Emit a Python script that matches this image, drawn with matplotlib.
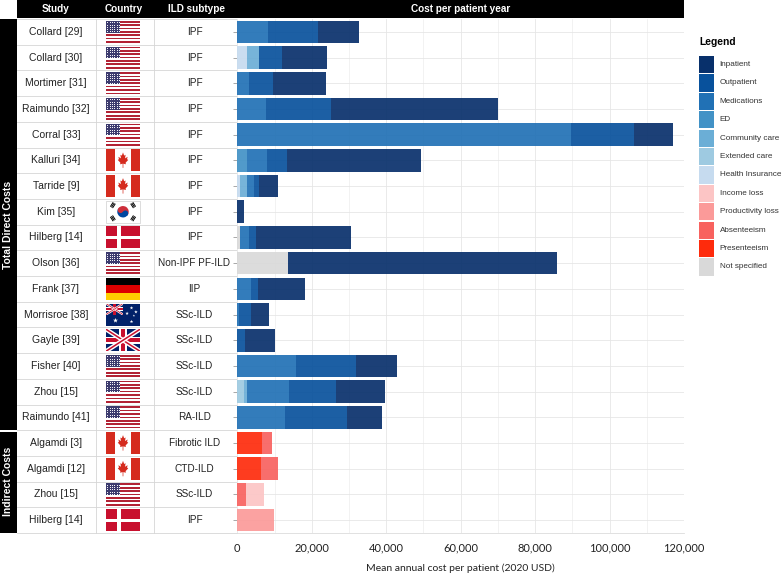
import numpy as np
import matplotlib.pyplot as plt
from matplotlib.patches import Rectangle, Polygon, Wedge, Circle
from matplotlib.ticker import FuncFormatter, MultipleLocator

# ---- data ----
studies = ['Collard [29]', 'Collard [30]', 'Mortimer [31]', 'Raimundo [32]', 'Corral [33]',
           'Kalluri [34]', 'Tarride [9]', 'Kim [35]', 'Hilberg [14]', 'Olson [36]',
           'Frank [37]', 'Morrisroe [38]', 'Gayle [39]', 'Fisher [40]', 'Zhou [15]',
           'Raimundo [41]', 'Algamdi [3]', 'Algamdi [12]', 'Zhou [15]', 'Hilberg [14]']
countries = ['US', 'US', 'US', 'US', 'US', 'CA', 'CA', 'KR', 'DK', 'US',
             'DE', 'AU', 'UK', 'US', 'US', 'US', 'CA', 'CA', 'US', 'DK']
subtypes = ['IPF', 'IPF', 'IPF', 'IPF', 'IPF', 'IPF', 'IPF', 'IPF', 'IPF', 'Non-IPF PF-ILD',
            'IIP', 'SSc-ILD', 'SSc-ILD', 'SSc-ILD', 'SSc-ILD', 'RA-ILD', 'Fibrotic ILD', 'CTD-ILD',
            'SSc-ILD', 'IPF']
group_names = ['Total Direct Costs', 'Indirect Costs']
group_sizes = [16, 4]

categories = ['Inpatient', 'Outpatient', 'Medications', 'ED', 'Community care', 'Extended care',
              'Health Insurance', 'Income loss', 'Productivity loss', 'Absenteeism',
              'Presenteeism', 'Not specified']
colors = ['#08306b', '#08519c', '#2171b5', '#4292c6', '#6baed6', '#9ecae1',
          '#c6dbef', '#fcc5c5', '#fb9a99', '#f8625f', '#fe2b0c', '#d9d9d9']

inpatient =     [11100, 12000, 14000, 45000, 10500, 36000, 5100, 1800, 25500, 72100,
                 12500, 4600, 8000, 11000, 13100, 9400, 0, 0, 0, 0]
outpatient =    [13400, 6300, 6600, 17400, 17000, 5400, 1300, 0, 1900, 0,
                 1900, 3300, 2200, 16000, 12600, 16800, 0, 0, 0, 0]
medications =   [8200, 0, 3100, 7700, 89600, 5400, 2000, 0, 2400, 0,
                 3700, 500, 0, 15900, 11300, 12800, 0, 0, 0, 0]
ed =            [0, 0, 0, 0, 0, 2500, 0, 0, 0, 0, 0, 0, 0, 0, 0, 0, 0, 0, 0, 0]
community =     [0, 3300, 0, 0, 0, 0, 1800, 0, 0, 0, 0, 0, 0, 0, 900, 0, 0, 0, 0, 0]
extended =      [0, 0, 0, 0, 0, 0, 0, 0, 0, 0, 0, 0, 0, 0, 1700, 0, 0, 0, 0, 0]
health_ins =    [0, 2500, 0, 0, 0, 0, 700, 0, 0, 0, 0, 0, 0, 0, 0, 0, 0, 0, 0, 0]
income_loss =   [0, 0, 0, 0, 0, 0, 0, 0, 0, 0, 0, 0, 0, 0, 0, 0, 0, 0, 4800, 0]
productivity =  [0, 0, 0, 0, 0, 0, 0, 0, 0, 0, 0, 0, 0, 0, 0, 0, 0, 0, 0, 9900]
absenteeism =   [0, 0, 0, 0, 0, 0, 0, 0, 0, 0, 0, 0, 0, 0, 0, 0, 2700, 4500, 2400, 0]
presenteeism =  [0, 0, 0, 0, 0, 0, 0, 0, 0, 0, 0, 0, 0, 0, 0, 0, 6600, 6400, 0, 0]
not_specified = [0, 0, 0, 0, 0, 0, 0, 0, 700, 13700, 0, 0, 0, 0, 0, 0, 0, 0, 0, 0]

series = [inpatient, outpatient, medications, ed, community, extended, health_ins,
          income_loss, productivity, absenteeism, presenteeism, not_specified]

SANS = ['Liberation Sans', 'DejaVu Sans']
W, H = 783, 574
TOP, BOTTOM = 19, 533
PL, PR = 237.3, 684
n = len(studies)
row_h = (BOTTOM - TOP) / n


# ---- flags, drawn in pixel coordinates ----
def rect(ax, x, y, w, h, c, **kw):
    p = Rectangle((x, y), w, h, facecolor=c, lw=0, **kw)
    ax.add_patch(p)
    return p


def flag_us(ax, x0, y0, w, h):
    sh = h / 13
    for i in range(13):
        rect(ax, x0, y0 + i * sh, w, sh + 0.05, '#b22234' if i % 2 == 0 else 'white')
    cw, ch = w * 0.42, sh * 7
    rect(ax, x0, y0, cw, ch, '#3c3b6e')
    gx, gy = np.meshgrid(np.linspace(x0 + cw * 0.1, x0 + cw * 0.9, 6),
                         np.linspace(y0 + ch * 0.12, y0 + ch * 0.88, 5))
    ax.scatter(gx.ravel(), gy.ravel(), s=0.5, c='white', lw=0)


leaf = np.array([(0, 1.0), (0.2, 0.6), (0.45, 0.7), (0.35, 0.25), (0.8, 0.45), (0.7, 0.15),
                 (0.9, 0.05), (0.45, -0.3), (0.5, -0.5), (0.06, -0.42), (0.06, -0.95),
                 (-0.06, -0.95), (-0.06, -0.42), (-0.5, -0.5), (-0.45, -0.3), (-0.9, 0.05),
                 (-0.7, 0.15), (-0.8, 0.45), (-0.35, 0.25), (-0.45, 0.7), (-0.2, 0.6)])


def flag_ca(ax, x0, y0, w, h):
    red = '#d52b1e'
    rect(ax, x0, y0, w, h, 'white')
    rect(ax, x0, y0, w * 0.26, h, red)
    rect(ax, x0 + w * 0.74, y0, w * 0.26, h, red)
    cx, cy = x0 + w / 2, y0 + h / 2
    pts = np.column_stack([cx + leaf[:, 0] * w * 0.17, cy - leaf[:, 1] * h * 0.36])
    ax.add_patch(Polygon(pts, closed=True, facecolor=red, lw=0))


def flag_kr(ax, x0, y0, w, h):
    ax.add_patch(Rectangle((x0, y0), w, h, facecolor='white', edgecolor='#cfcfcf', lw=0.5))
    cx, cy = x0 + w / 2, y0 + h / 2
    r = h * 0.26
    a = 33.7
    ax.add_patch(Wedge((cx, cy), r, 180 + a, 360 + a, facecolor='#cd2e3a', lw=0))
    ax.add_patch(Wedge((cx, cy), r, a, 180 + a, facecolor='#0047a0', lw=0))
    d = np.array([np.cos(np.radians(a)), np.sin(np.radians(a))])
    ax.add_patch(Circle((cx - d[0] * r / 2, cy - d[1] * r / 2), r / 2, facecolor='#cd2e3a', lw=0))
    ax.add_patch(Circle((cx + d[0] * r / 2, cy + d[1] * r / 2), r / 2, facecolor='#0047a0', lw=0))
    for sx, sy in [(-1, -1), (1, -1), (-1, 1), (1, 1)]:
        v = np.array([sx * w, sy * h])
        v = v / np.hypot(*v)
        p = np.array([-v[1], v[0]])
        tc = np.array([cx, cy]) + v * h * 0.55
        for k in (-1, 0, 1):
            c = tc + v * k * 1.3
            ax.plot([c[0] - p[0] * 2.6, c[0] + p[0] * 2.6], [c[1] - p[1] * 2.6, c[1] + p[1] * 2.6],
                    color='black', lw=0.7, solid_capstyle='butt')


def flag_dk(ax, x0, y0, w, h):
    rect(ax, x0, y0, w, h, '#c8102e')
    rect(ax, x0 + w * 12 / 37, y0, w * 4 / 37, h, 'white')
    rect(ax, x0, y0 + h * 12 / 28, w, h * 4 / 28, 'white')


def flag_de(ax, x0, y0, w, h):
    for i, c in enumerate(['#000000', '#dd0000', '#ffce00']):
        rect(ax, x0, y0 + i * h / 3, w, h / 3 + 0.05, c)


def union_jack(ax, x0, y0, w, h):
    bg = rect(ax, x0, y0, w, h, '#012169')
    px = 0.72
    for xs, ys in [([x0, x0 + w], [y0, y0 + h]), ([x0, x0 + w], [y0 + h, y0])]:
        l1, = ax.plot(xs, ys, color='white', lw=h * 0.2 * px, solid_capstyle='butt')
        l2, = ax.plot(xs, ys, color='#c8102e', lw=h * 0.07 * px, solid_capstyle='butt')
        l1.set_clip_path(bg)
        l2.set_clip_path(bg)
    rect(ax, x0, y0 + h / 2 - h / 6, w, h / 3, 'white')
    rect(ax, x0 + w / 2 - h / 6, y0, h / 3, h, 'white')
    rect(ax, x0, y0 + h / 2 - h / 10, w, h / 5, '#c8102e')
    rect(ax, x0 + w / 2 - h / 10, y0, h / 5, h, '#c8102e')


def flag_uk(ax, x0, y0, w, h):
    union_jack(ax, x0, y0, w, h)


def flag_au(ax, x0, y0, w, h):
    rect(ax, x0, y0, w, h, '#012169')
    union_jack(ax, x0, y0, w / 2, h / 2)
    ax.scatter([x0 + w * 0.25], [y0 + h * 0.75], s=14, marker='*', c='white', lw=0)
    sx = [x0 + w * 0.75, x0 + w * 0.62, x0 + w * 0.88, x0 + w * 0.75, x0 + w * 0.82]
    sy = [y0 + h * 0.2, y0 + h * 0.45, y0 + h * 0.38, y0 + h * 0.82, y0 + h * 0.55]
    ax.scatter(sx, sy, s=[7, 7, 7, 7, 3], marker='*', c='white', lw=0)


flag_funcs = {'US': flag_us, 'CA': flag_ca, 'KR': flag_kr, 'DK': flag_dk,
              'DE': flag_de, 'UK': flag_uk, 'AU': flag_au}

# ---- figure ----
fig = plt.figure(figsize=(W / 100, H / 100), dpi=100)
cv = fig.add_axes([0, 0, 1, 1])
cv.set_xlim(0, W)
cv.set_ylim(H, 0)
cv.axis('off')

# header
rect(cv, 17, 0, PR - 17, 18, 'black')
for label, x in [('Study', 56), ('Country', 124), ('ILD subtype', 196),
                 ('Cost per patient year', (PL + PR) / 2)]:
    cv.text(x, 9.5, label, color='white', fontweight='bold', fontsize=7.2,
            ha='center', va='center', family=SANS)

# group bands on the left
start = TOP
for name, size in zip(group_names, group_sizes):
    y0, y1 = start, start + size * row_h
    gap = 0 if start == TOP else 1.5
    rect(cv, 0, y0 + gap, 16.5, y1 - y0 - gap, 'black')
    cv.text(8.5, (y0 + y1) / 2, name, color='white', fontweight='bold', fontsize=7.5,
            rotation=90, ha='center', va='center', family=SANS)
    start = y1

# table grid and contents
grid_c = '#d6d6d6'
for i in range(n + 1):
    cv.plot([17, PL], [TOP + i * row_h] * 2, color=grid_c, lw=0.6)
for x in [96, 154]:
    cv.plot([x, x], [TOP, BOTTOM], color=grid_c, lw=0.6)
for i, (s, c, t) in enumerate(zip(studies, countries, subtypes)):
    yc = TOP + (i + 0.5) * row_h
    cv.text(56, yc, s, ha='center', va='center', fontsize=7.5, color='#222222', family=SANS)
    cv.text(194.5, yc, t, ha='center', va='center', fontsize=7.2, color='#222222', family=SANS)
    flag_funcs[c](cv, 106, yc - 11, 34, 22)

# legend
cv.text(699, 42, 'Legend', fontweight='bold', fontsize=7.4, ha='left', va='center', family=SANS)
for k, (lab, col) in enumerate(zip(categories, colors)):
    y0 = 56 + k * 18.4
    rect(cv, 699, y0, 15, 17.2, col)
    cv.text(719.5, y0 + 8.6, lab, fontsize=5.9, color='#333333', ha='left', va='center', family=SANS)

# ---- bar chart ----
ax = fig.add_axes([PL / W, (H - BOTTOM) / H, (PR - PL) / W, (BOTTOM - TOP) / H])
ypos = np.arange(n)
left = np.zeros(n)
for vals, col in zip(series[::-1], colors[::-1]):
    vals = np.array(vals, dtype=float)
    ax.barh(ypos, vals, left=left, height=0.88, color=col, alpha=0.92, lw=0, zorder=3)
    left += vals

ax.set_xlim(0, 120000)
ax.set_ylim(n - 0.5, -0.5)
ax.xaxis.set_major_locator(MultipleLocator(20000))
ax.xaxis.set_minor_locator(MultipleLocator(10000))
ax.xaxis.set_major_formatter(FuncFormatter(lambda v, p: f'{int(v):,}'))
ax.set_yticks(ypos)
ax.set_yticklabels([])
ax.tick_params(axis='y', length=3, color='#9a9a9a', width=0.6)
ax.tick_params(axis='x', which='both', length=0, pad=7, labelsize=8, labelcolor='#222222')
for lab in ax.get_xticklabels():
    lab.set_family(['Lato', 'DejaVu Sans'])
ax.grid(True, which='major', color='#e6e6e6', lw=0.6, zorder=0)
ax.grid(True, which='minor', axis='x', color='#ededed', lw=0.5, zorder=0)
for side in ['top', 'left', 'right']:
    ax.spines[side].set_visible(False)
ax.spines['bottom'].set_color('#dcdcdc')
ax.spines['bottom'].set_linewidth(0.6)
ax.set_xlabel('Mean annual cost per patient (2020 USD)', fontsize=7.5, color='#222222',
              family=['Lato', 'DejaVu Sans'], labelpad=7)

fig.savefig('out.png', dpi=100)
